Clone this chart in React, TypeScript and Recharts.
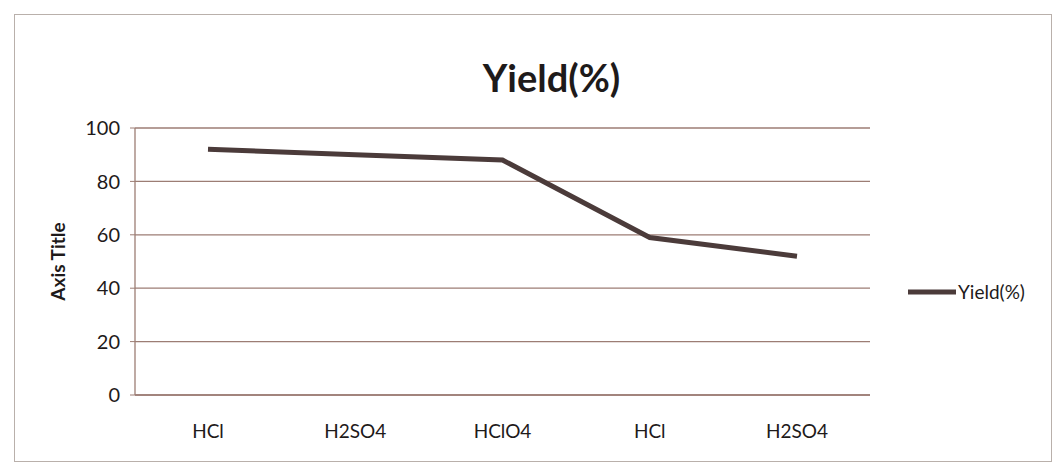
import React from 'react';
import { LineChart, Line, XAxis, YAxis, CartesianGrid } from 'recharts';

// Yield(%) by acid
const categories = ['HCl', 'H2SO4', 'HClO4', 'HCl', 'H2SO4'];
const yieldValues = [92, 90, 88, 59, 52];
const yTicks = [0, 20, 40, 60, 80, 100];

const data = categories.map((name, i) => ({ name, key: `${name}-${i}`, yield: yieldValues[i] }));

const FONT = 'Lato, "Open Sans", sans-serif';
const INK = '#1e1a1a';
const GRID = '#9c7d74';
const LINE = '#4b3b3a';

function LegendBox() {
  return (
    <div
      style={{
        position: 'absolute', left: 908, top: 280, display: 'flex', alignItems: 'center',
        fontFamily: FONT, fontSize: 19, color: INK,
      }}
    >
      <svg width={48} height={10}>
        <line x1={0} y1={5} x2={48} y2={5} stroke={LINE} strokeWidth={5} />
      </svg>
      <span style={{ marginLeft: 2 }}>Yield(%)</span>
    </div>
  );
}

export default function App() {
  return (
    <div style={{ position: 'absolute', left: 0, top: 0, width: 1055, height: 470, background: '#fff', fontFamily: FONT }}>
      <div style={{ position: 'absolute', left: 14, top: 14, width: 1036, height: 446, border: '1px solid #b9b0ab' }} />
      <div style={{ position: 'absolute', left: 24, width: 1055, top: 54, textAlign: 'center', fontSize: 38, fontWeight: 700, color: INK }}>
        Yield(%)
      </div>
      <LineChart width={1055} height={470} data={data} margin={{ top: 128, right: 185, bottom: 45, left: 40 }}>
        <CartesianGrid horizontal vertical={false} stroke={GRID} strokeWidth={1.3} />
        <XAxis
          dataKey="key"
          height={30}
          padding={{ left: 73, right: 73 }}
          tickFormatter={(v: string) => v.split('-')[0]}
          tick={{ fontSize: 19, fill: INK, fontFamily: FONT, dy: 22 }}
          axisLine={{ stroke: GRID, strokeWidth: 1.3 }}
          tickLine={false}
        />
        <YAxis
          width={95}
          domain={[0, 100]}
          ticks={yTicks}
          tick={{ fontSize: 20, fill: INK, fontFamily: FONT, dx: -8 }}
          axisLine={{ stroke: GRID, strokeWidth: 1.3 }}
          tickLine={{ stroke: GRID }}
          tickSize={5}
          label={{
            value: 'Axis Title',
            angle: -90,
            position: 'insideLeft',
            offset: 18,
            style: { fontSize: 19, fontWeight: 700, fill: INK, fontFamily: FONT, textAnchor: 'middle' },
          }}
        />
        <Line
          type="linear"
          dataKey="yield"
          name="Yield(%)"
          stroke={LINE}
          strokeWidth={5}
          dot={false}
          isAnimationActive={false}
        />
      </LineChart>
      <LegendBox />
    </div>
  );
}
